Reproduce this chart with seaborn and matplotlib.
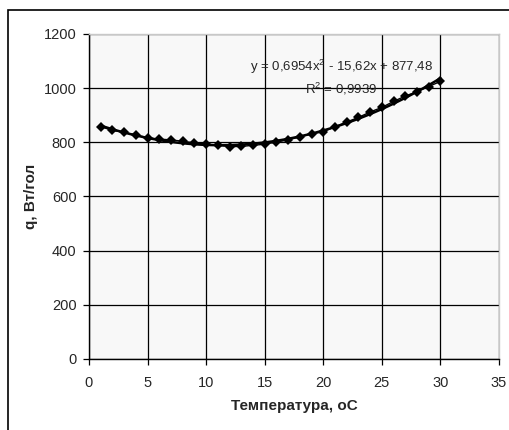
import matplotlib.pyplot as plt
import matplotlib.patches as mpatches
import seaborn as sns
import numpy as np
import pandas as pd

temperature = list(range(1, 31))
q_values = [858, 844, 837, 827, 817, 812, 809, 804, 798, 794,
            789, 784, 785, 789, 793, 801, 809, 820, 831, 839,
            858, 875, 892, 912, 929, 951, 971, 987, 1006, 1025]
x_ticks = [0, 5, 10, 15, 20, 25, 30, 35]
y_ticks = [0, 200, 400, 600, 800, 1000, 1200]
eq_line = 'y = 0,6954x$^2$ - 15,62x + 877,48'
r2_line = 'R$^2$ = 0,9939'

sns.set_style('white')
plt.rcParams['font.family'] = ['Liberation Sans', 'DejaVu Sans']
plt.rcParams['mathtext.fontset'] = 'custom'
plt.rcParams['mathtext.rm'] = 'Liberation Sans'

df = pd.DataFrame({'t': temperature, 'q': q_values})

fig = plt.figure(figsize=(5.1, 4.3), dpi=100)
ax = fig.add_axes([89 / 510, 71 / 430, 410 / 510, 325 / 430])
ax.set_facecolor('#f8f8f8')

# polynomial trend line (order 2), as in the excel chart
sns.regplot(data=df, x='t', y='q', order=2, ci=None, scatter=False,
            ax=ax, color='k', line_kws={'lw': 1.8})
sns.lineplot(data=df, x='t', y='q', ax=ax, color='k', lw=1.0,
             marker='D', markersize=5, markeredgewidth=0)

ax.set_xlim(0, 35)
ax.set_ylim(0, 1200)
ax.set_xticks(x_ticks)
ax.set_yticks(y_ticks)
ax.grid(True, color='k', lw=0.9)
ax.set_axisbelow(True)
ax.tick_params(axis='both', direction='out', length=4, width=0.9,
               color='k', labelsize=10.5, bottom=True, left=True)
ax.tick_params(axis='x', pad=8)
ax.tick_params(axis='y', pad=5)
for side in ['left', 'bottom']:
    ax.spines[side].set_color('k')
    ax.spines[side].set_linewidth(1.0)
for side in ['top', 'right']:
    ax.spines[side].set_color('#c8c8c8')
    ax.spines[side].set_linewidth(1.0)

ax.set_xlabel('Температура, оС', fontsize=11, fontweight='bold', labelpad=7)
ax.set_ylabel('q, Вт/гол', fontsize=11, fontweight='bold', labelpad=4)

fig.text(342 / 510, 1 - 67 / 430, eq_line, ha='center', va='center', fontsize=9.5)
fig.text(341 / 510, 1 - 89 / 430, r2_line, ha='center', va='center', fontsize=9.5)

# outer chart frame
fig.patches.append(mpatches.Rectangle((8 / 510, -0.1), 1.2, 1 - 10 / 430 + 0.1,
                                      transform=fig.transFigure, fill=False,
                                      edgecolor='k', lw=1.2))

fig.savefig('out.png', dpi=100)
